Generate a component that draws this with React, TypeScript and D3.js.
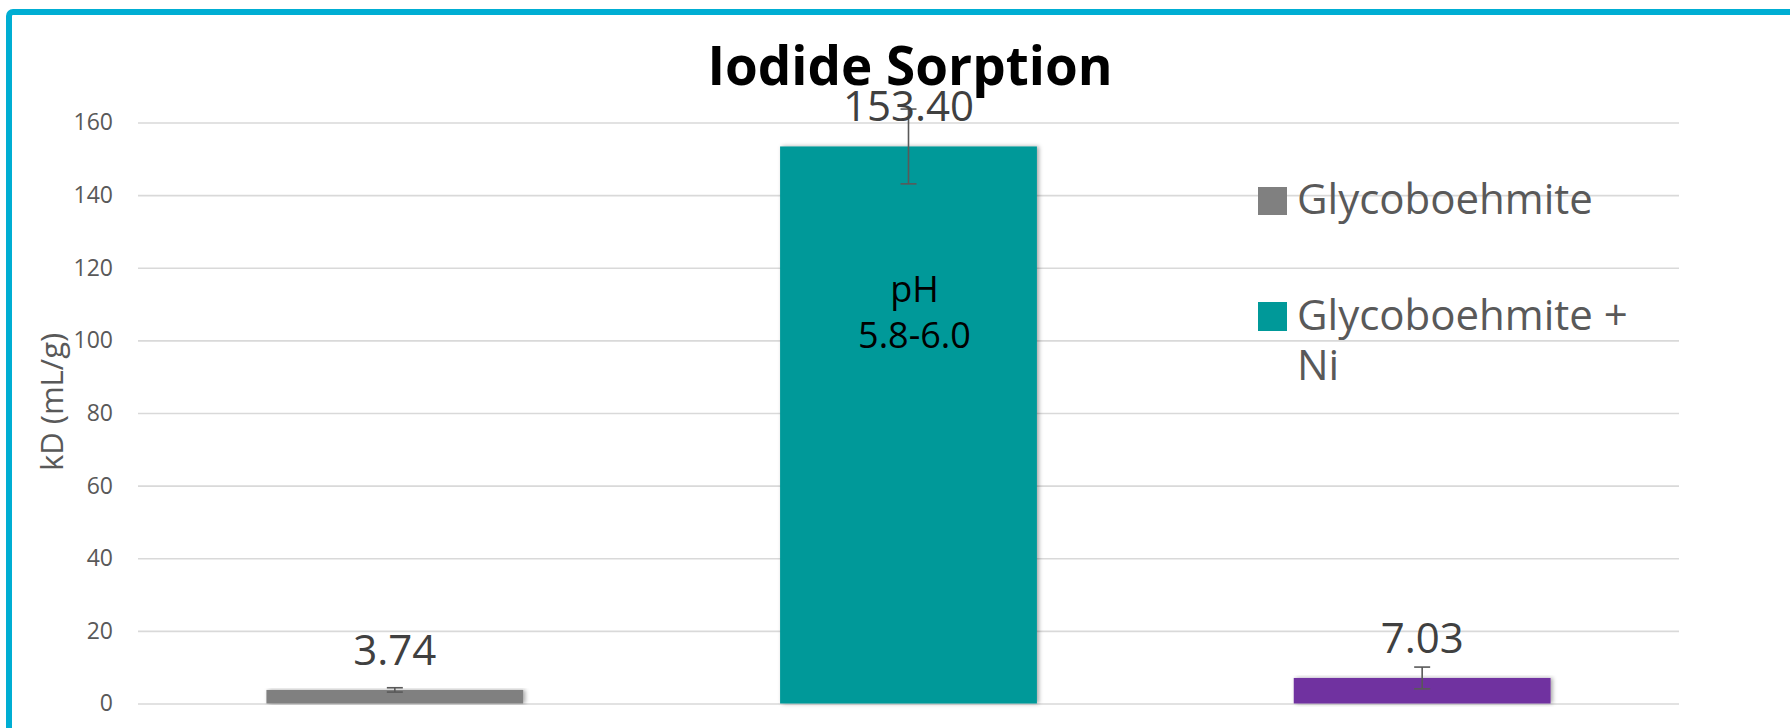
import React, { useEffect, useRef } from "react";
import * as d3 from "d3";

// chart values
const categories = ["Glycoboehmite", "Glycoboehmite + Ni", "Series 3"];
const values = [3.74, 153.4, 7.03];
const errors = [0.6, 10.3, 3.0];
const barColors = ["#808080", "#009999", "#7030A0"];
const yTicks = [0, 20, 40, 60, 80, 100, 120, 140, 160];
const legendItems = ["Glycoboehmite", "Glycoboehmite + Ni"];
const legendColors = ["#808080", "#009999"];

const W = 1790;
const H = 728;
const FONT = "'Open Sans', 'Noto Sans', sans-serif";

export default function App() {
  const ref = useRef<SVGSVGElement>(null);

  useEffect(() => {
    const svg = d3.select(ref.current);
    svg.selectAll("*").remove();

    var margin = { left: 138, right: 111, top: 122.5, bottom: 24.5 };
    var w = W - margin.left - margin.right,
      h = H - margin.top - margin.bottom;

    // soft shadow like the office bars
    const defs = svg.append("defs");
    defs.append("filter").attr("id", "barShadow")
      .attr("x", "-10%").attr("y", "-10%").attr("width", "120%").attr("height", "120%")
      .append("feDropShadow")
      .attr("dx", 2).attr("dy", 0).attr("stdDeviation", 2)
      .attr("flood-color", "#000").attr("flood-opacity", 0.35);

    svg.append("rect")
      .attr("width", W).attr("height", H).attr("fill", "#fff");

    // cyan frame
    svg.append("rect")
      .attr("x", 9).attr("y", 12)
      .attr("width", W + 20).attr("height", H + 20)
      .attr("rx", 4)
      .attr("fill", "none")
      .attr("stroke", "#00AED3")
      .attr("stroke-width", 6);

    const g = svg.append("g")
      .attr("transform", `translate(${margin.left}, ${margin.top})`);

    const x_scale = d3.scaleBand<string>()
      .domain(categories)
      .range([0, w])
      .paddingInner(0.5)
      .paddingOuter(0.25);
    const y_scale = d3.scaleLinear().domain([0, 160]).range([h, 0]);

    const yAxis = g.append("g").attr("class", "y_axis_g")
      .call(d3.axisLeft(y_scale).tickValues(yTicks).tickSize(-w).tickPadding(25));
    yAxis.select(".domain").remove();
    yAxis.selectAll(".tick line")
      .attr("stroke", "#D9D9D9")
      .attr("stroke-width", 1.6);
    yAxis.selectAll(".tick text")
      .attr("fill", "#595959")
      .style("font-family", FONT)
      .style("font-size", "23px");

    g.selectAll(".bar")
      .data(values)
      .join("rect")
      .attr("class", "bar")
      .attr("x", (d, i) => x_scale(categories[i])!)
      .attr("y", (d) => y_scale(d))
      .attr("width", x_scale.bandwidth())
      .attr("height", (d) => h - y_scale(d))
      .attr("fill", (d, i) => barColors[i])
      .attr("filter", "url(#barShadow)");

    // error bars
    const eb = g.selectAll(".err")
      .data(values)
      .join("g")
      .attr("class", "err")
      .attr("transform", (d, i) => `translate(${x_scale(categories[i])! + x_scale.bandwidth() / 2}, 0)`)
      .attr("stroke", "#595959")
      .attr("stroke-width", 1.6);
    eb.append("line")
      .attr("y1", (d, i) => y_scale(d + errors[i]))
      .attr("y2", (d, i) => y_scale(d - errors[i]));
    eb.append("line")
      .attr("x1", -8).attr("x2", 8)
      .attr("y1", (d, i) => y_scale(d + errors[i]))
      .attr("y2", (d, i) => y_scale(d + errors[i]));
    eb.append("line")
      .attr("x1", -8).attr("x2", 8)
      .attr("y1", (d, i) => y_scale(d - errors[i]))
      .attr("y2", (d, i) => y_scale(d - errors[i]));

    // value labels
    g.selectAll(".val")
      .data(values)
      .join("text")
      .attr("class", "val")
      .attr("x", (d, i) => x_scale(categories[i])! + x_scale.bandwidth() / 2)
      .attr("y", (d) => y_scale(d) - 25)
      .attr("text-anchor", "middle")
      .attr("fill", "#404040")
      .style("font-family", FONT)
      .style("font-size", "42px")
      .text((d) => d.toFixed(2));

    // note inside the tall bar
    const note = g.append("text")
      .attr("x", x_scale(categories[1])! + x_scale.bandwidth() / 2 + 6)
      .attr("y", y_scale(110.5))
      .attr("text-anchor", "middle")
      .attr("fill", "#000")
      .style("font-family", FONT)
      .style("font-size", "36px");
    note.append("tspan").text("pH");
    note.append("tspan")
      .attr("x", x_scale(categories[1])! + x_scale.bandwidth() / 2 + 6)
      .attr("dy", 46)
      .text("5.8-6.0");

    // axis title
    svg.append("text")
      .attr("transform", `translate(63, 402) rotate(-90)`)
      .attr("text-anchor", "middle")
      .attr("fill", "#595959")
      .style("font-family", FONT)
      .style("font-size", "31px")
      .text("kD (mL/g)");

    // chart title
    svg.append("text")
      .attr("x", 910)
      .attr("y", 85)
      .attr("text-anchor", "middle")
      .attr("fill", "#000")
      .style("font-family", FONT)
      .style("font-weight", "bold")
      .style("font-size", "53px")
      .text("Iodide Sorption");

    // legend
    const legend = svg.append("g").attr("transform", "translate(1258, 0)");
    legend.append("rect")
      .attr("x", 0).attr("y", 187).attr("width", 29).attr("height", 28)
      .attr("fill", legendColors[0]);
    legend.append("text")
      .attr("x", 39).attr("y", 214)
      .attr("fill", "#595959")
      .style("font-family", FONT)
      .style("font-size", "42px")
      .text(legendItems[0]);
    legend.append("rect")
      .attr("x", 0).attr("y", 302).attr("width", 29).attr("height", 29)
      .attr("fill", legendColors[1]);
    const l2 = legend.append("text")
      .attr("x", 39).attr("y", 330)
      .attr("fill", "#595959")
      .style("font-family", FONT)
      .style("font-size", "42px");
    l2.append("tspan").text("Glycoboehmite +");
    l2.append("tspan").attr("x", 39).attr("dy", 50).text("Ni");
  }, []);

  return (
    <svg
      ref={ref}
      width={W}
      height={H}
      style={{ position: "absolute", left: 0, top: 0, display: "block" }}
    />
  );
}
